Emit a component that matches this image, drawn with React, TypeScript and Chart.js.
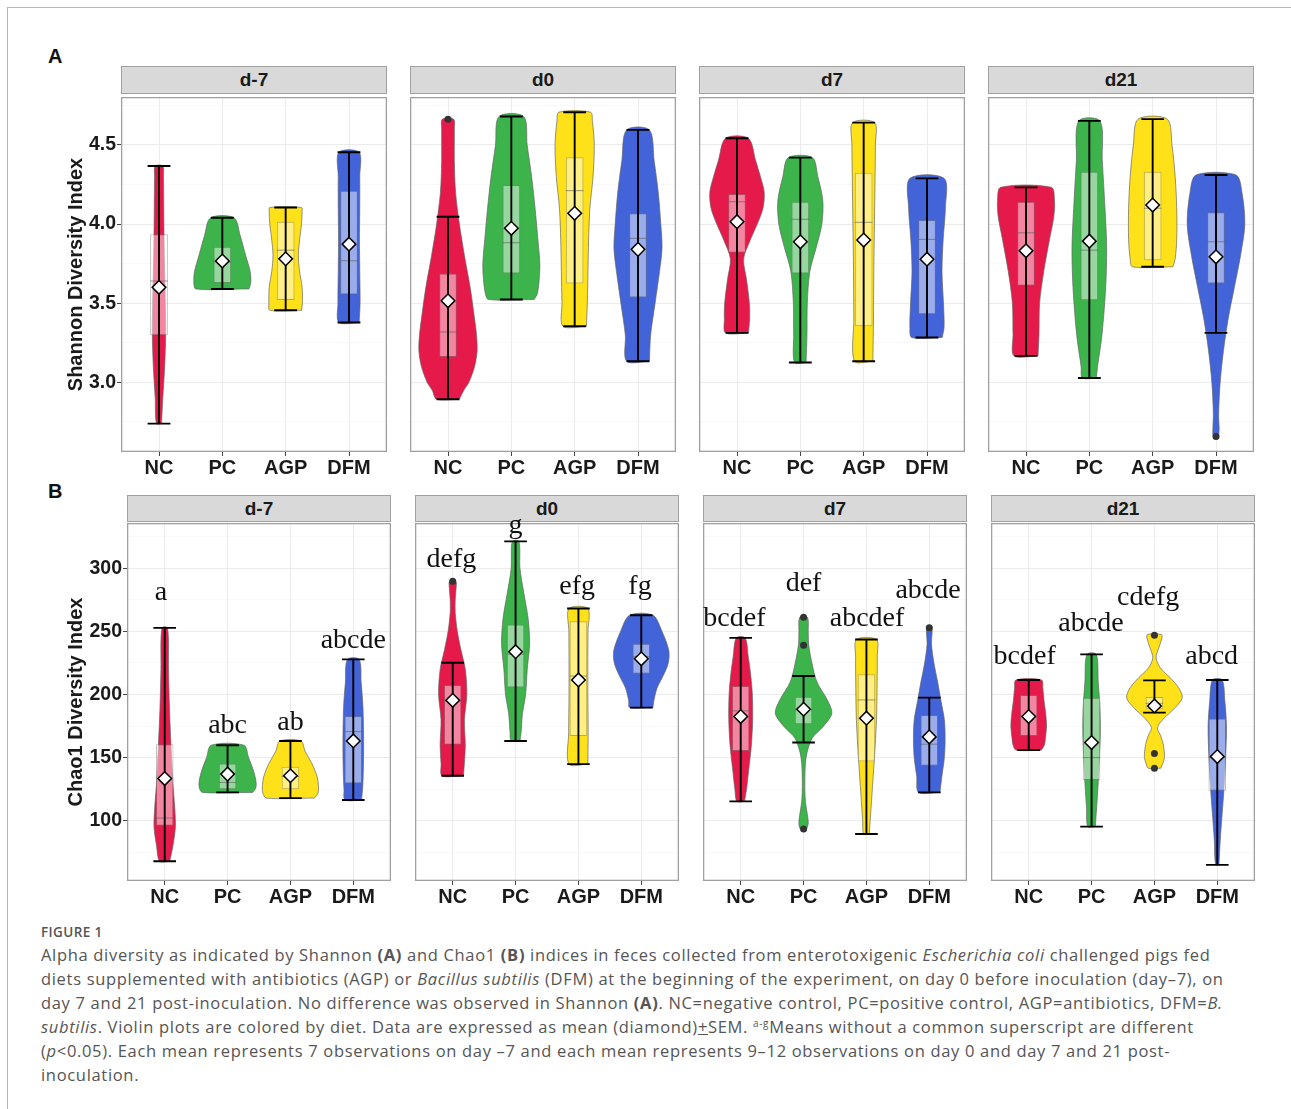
import React, { useEffect, useRef } from "react";
import { Chart, registerables } from "chart.js";
Chart.register(...registerables);

const groups = ["NC", "PC", "AGP", "DFM"];
const days = ["d-7", "d0", "d7", "d21"];
const groupColors = ["#e6194B", "#3cb44b", "#ffe119", "#4363d8"];

// ---------- Shannon (A) : [day][group] ----------
const shannonMean = [
  [3.6, 3.766, 3.78, 3.873],
  [3.515, 3.973, 4.068, 3.84],
  [4.015, 3.888, 3.899, 3.778],
  [3.831, 3.892, 4.12, 3.793],
];
const shannonQ1 = [
  [3.297, 3.628, 3.52, 3.555],
  [3.16, 3.688, 3.625, 3.536],
  [3.818, 3.688, 3.354, 3.43],
  [3.61, 3.519, 3.772, 3.625],
];
const shannonMedian = [
  [3.64, 3.76, 3.835, 3.768],
  [3.318, 3.882, 4.211, 3.91],
  [4.141, 4.03, 4.011, 3.903],
  [3.945, 3.835, 4.1, 3.888],
];
const shannonQ3 = [
  [3.935, 3.856, 4.015, 4.21],
  [3.688, 4.247, 4.422, 4.068],
  [4.19, 4.141, 4.325, 4.025],
  [4.141, 4.331, 4.331, 4.074],
];
const shannonLow = [
  [2.739, 3.59, 3.455, 3.378],
  [2.893, 3.523, 3.354, 3.133],
  [3.312, 3.125, 3.133, 3.283],
  [3.167, 3.027, 3.73, 3.312],
];
const shannonHigh = [
  [4.367, 4.04, 4.105, 4.454],
  [4.046, 4.68, 4.707, 4.595],
  [4.542, 4.42, 4.641, 4.289],
  [4.232, 4.652, 4.663, 4.31],
];
const shannonOutliers = [
  [[], [], [], []],
  [[4.663], [], [], []],
  [[], [], [], []],
  [[], [], [], [2.658]],
];
// violin outline: [value, half width in category units]
const shannonViolins = [
  [
    [[2.739, 0.04], [2.9, 0.06], [3.1, 0.09], [3.3, 0.105], [3.5, 0.1], [3.7, 0.09], [3.9, 0.08], [4.1, 0.075], [4.3, 0.07], [4.367, 0.06]],
    [[3.59, 0.42], [3.63, 0.45], [3.7, 0.44], [3.8, 0.37], [3.93, 0.28], [4.04, 0.185]],
    [[3.455, 0.25], [3.5, 0.265], [3.6, 0.26], [3.7, 0.22], [3.8, 0.2], [3.9, 0.22], [4.0, 0.25], [4.08, 0.26], [4.105, 0.25]],
    [[3.378, 0.16], [3.5, 0.175], [3.7, 0.17], [3.9, 0.165], [4.1, 0.17], [4.3, 0.17], [4.454, 0.16]],
  ],
  [
    [[2.893, 0.18], [2.95, 0.25], [3.0, 0.33], [3.1, 0.42], [3.2, 0.46], [3.3, 0.45], [3.4, 0.42], [3.6, 0.35], [3.8, 0.26], [4.0, 0.18], [4.2, 0.12], [4.4, 0.1], [4.6, 0.1], [4.663, 0.09]],
    [[3.523, 0.36], [3.56, 0.41], [3.65, 0.44], [3.75, 0.45], [3.9, 0.42], [4.1, 0.375], [4.3, 0.32], [4.5, 0.25], [4.68, 0.195]],
    [[3.354, 0.185], [3.5, 0.2], [3.7, 0.21], [3.9, 0.22], [4.1, 0.24], [4.3, 0.29], [4.5, 0.31], [4.65, 0.28], [4.707, 0.25]],
    [[3.133, 0.18], [3.3, 0.2], [3.5, 0.27], [3.7, 0.34], [3.85, 0.38], [4.0, 0.36], [4.2, 0.32], [4.4, 0.255], [4.595, 0.18]],
  ],
  [
    [[3.312, 0.18], [3.4, 0.2], [3.5, 0.195], [3.65, 0.15], [3.78, 0.105], [3.9, 0.21], [4.0, 0.32], [4.1, 0.41], [4.2, 0.43], [4.3, 0.37], [4.4, 0.295], [4.542, 0.18]],
    [[3.125, 0.09], [3.3, 0.105], [3.5, 0.11], [3.7, 0.15], [3.85, 0.25], [4.0, 0.34], [4.15, 0.355], [4.3, 0.276], [4.42, 0.19]],
    [[3.133, 0.145], [3.4, 0.155], [3.7, 0.16], [4.0, 0.17], [4.3, 0.18], [4.5, 0.185], [4.641, 0.175]],
    [[3.283, 0.24], [3.35, 0.27], [3.5, 0.26], [3.7, 0.237], [3.9, 0.255], [4.1, 0.29], [4.289, 0.27]],
  ],
  [
    [[3.167, 0.19], [3.3, 0.205], [3.5, 0.215], [3.7, 0.28], [3.9, 0.37], [4.05, 0.44], [4.15, 0.45], [4.232, 0.4]],
    [[3.027, 0.11], [3.1, 0.13], [3.3, 0.2], [3.6, 0.258], [3.85, 0.274], [4.1, 0.247], [4.4, 0.205], [4.652, 0.168]],
    [[3.73, 0.32], [3.78, 0.355], [3.9, 0.38], [4.1, 0.38], [4.3, 0.355], [4.5, 0.305], [4.663, 0.23]],
    [[2.658, 0.04], [2.7, 0.05], [2.8, 0.042], [3.0, 0.066], [3.2, 0.118], [3.4, 0.192], [3.6, 0.29], [3.8, 0.387], [4.0, 0.455], [4.2, 0.41], [4.31, 0.316]],
  ],
];
const shannonTicks = [2.75, 3, 3.25, 3.5, 3.75, 4, 4.25, 4.5, 4.75];
const shannonMajorTicks = [3, 3.5, 4, 4.5];
const shannonTickLabels = ["3.0", "3.5", "4.0", "4.5"];

// ---------- Chao1 (B) : [day][group] ----------
const chaoMean = [
  [133.4, 136.9, 135.6, 163.2],
  [195.4, 233.9, 211.5, 228.3],
  [182.5, 188.3, 181.2, 166.4],
  [182.5, 161.9, 190.9, 150.8],
];
const chaoQ1 = [
  [96, 125, 125, 129.5],
  [160.1, 205.5, 167.2, 216.5],
  [155.3, 176.4, 146.9, 143.5],
  [167.2, 132.2, 188.3, 123.7],
];
const chaoMedian = [
  [102.1, 130.3, 135, 170.6],
  [194.9, 232, 214.6, 230],
  [187, 188, 195.7, 160.6],
  [183, 150, 193, 150],
];
const chaoQ3 = [
  [160.6, 145.3, 142.7, 183],
  [207.5, 255.5, 258.1, 240.2],
  [206.7, 198.3, 216, 183.8],
  [199.6, 197.5, 198, 180.9],
];
const chaoLow = [
  [67.8, 122.4, 117.9, 116.4],
  [135.6, 163.2, 144.8, 189.6],
  [115.3, 161.9, 89.5, 122.4],
  [155.9, 95.3, 185.6, 65],
];
const chaoHigh = [
  [252.8, 159.8, 163.2, 227.8],
  [225.1, 321.3, 268.1, 262.8],
  [244.9, 214.6, 243.6, 197.5],
  [211.5, 231.8, 211.2, 211.5],
];
const chaoOutliers = [
  [[], [], [], []],
  [[289.7], [], [], []],
  [[], [261.3, 239.1, 93.4], [], [252.8]],
  [[], [], [247, 153.2, 141.6], []],
];
const chaoViolins = [
  [
    [[67.8, 0.08], [80, 0.13], [95, 0.17], [110, 0.16], [130, 0.13], [160, 0.1], [190, 0.075], [220, 0.06], [252.8, 0.045]],
    [[122.4, 0.4], [126, 0.45], [132, 0.45], [140, 0.41], [150, 0.334], [159.8, 0.26]],
    [[117.9, 0.38], [122, 0.44], [128, 0.445], [135, 0.424], [145, 0.345], [155, 0.233], [163.2, 0.167]],
    [[116.4, 0.13], [125, 0.148], [140, 0.16], [160, 0.165], [190, 0.154], [210, 0.125], [227.8, 0.093]],
  ],
  [
    [[135.6, 0.17], [145, 0.185], [160, 0.2], [180, 0.186], [200, 0.225], [220, 0.2], [235, 0.133], [250, 0.074], [265, 0.04], [275, 0.04], [285, 0.055], [289.7, 0.05]],
    [[163.2, 0.07], [170, 0.088], [185, 0.11], [200, 0.16], [220, 0.186], [240, 0.223], [260, 0.2], [280, 0.133], [300, 0.07], [321.3, 0.053]],
    [[144.8, 0.15], [170, 0.155], [200, 0.15], [230, 0.15], [250, 0.152], [268.1, 0.15]],
    [[189.6, 0.185], [195, 0.2], [205, 0.25], [215, 0.35], [225, 0.43], [235, 0.437], [250, 0.33], [262.8, 0.186]],
  ],
  [
    [[115.3, 0.06], [125, 0.093], [140, 0.127], [160, 0.17], [180, 0.19], [200, 0.185], [215, 0.16], [230, 0.12], [244.9, 0.07]],
    [[93.4, 0.05], [98, 0.075], [105, 0.06], [115, 0.03], [130, 0.02], [150, 0.04], [165, 0.133], [175, 0.32], [185, 0.45], [195, 0.385], [210, 0.212], [225, 0.133], [240, 0.08], [250, 0.074], [261.3, 0.061]],
    [[89.5, 0.045], [100, 0.06], [120, 0.087], [150, 0.127], [180, 0.16], [210, 0.17], [230, 0.172], [243.6, 0.16]],
    [[122.4, 0.17], [135, 0.2], [150, 0.24], [165, 0.252], [180, 0.24], [195, 0.186], [210, 0.133], [225, 0.074], [240, 0.035], [252.8, 0.04]],
  ],
  [
    [[155.9, 0.2], [160, 0.25], [165, 0.265], [175, 0.284], [185, 0.27], [195, 0.244], [205, 0.225], [211.5, 0.204]],
    [[95.3, 0.06], [110, 0.08], [130, 0.106], [150, 0.125], [170, 0.14], [190, 0.133], [210, 0.106], [231.8, 0.074]],
    [[141.6, 0.1], [145, 0.13], [150, 0.16], [155, 0.155], [160.6, 0.14], [167.2, 0.1], [173.8, 0.048], [181.7, 0.164], [189.6, 0.33], [197.5, 0.443], [205.4, 0.385], [213.3, 0.25], [221.2, 0.093], [229.1, 0.026], [237, 0.07], [244.9, 0.12], [247.6, 0.11]],
    [[65, 0.027], [85, 0.048], [105, 0.077], [125, 0.106], [150, 0.133], [175, 0.146], [195, 0.12], [211.5, 0.077]],
  ],
];
const chaoLetters = [
  ["a", "abc", "ab", "abcde"],
  ["defg", "g", "efg", "fg"],
  ["bcdef", "def", "abcdef", "abcde"],
  ["bcdef", "abcde", "cdefg", "abcd"],
];
const chaoLetterY = [
  [274.7, 169.6, 172, 237],
  [300.8, 327.9, 279.7, 279.7],
  [254.2, 281.8, 254.2, 276.5],
  [223.9, 250.2, 271.2, 223.9],
];
const chaoLetterDx = [
  [-0.06, 0, 0, 0],
  [-0.02, 0, -0.02, -0.02],
  [-0.1, 0, 0.01, -0.02],
  [-0.065, -0.01, -0.1, -0.09],
];
const chaoTicks = [75, 100, 125, 150, 175, 200, 225, 250, 275, 300, 325];
const chaoMajorTicks = [100, 150, 200, 250, 300];
const chaoTickLabels = ["100", "150", "200", "250", "300"];

const rowA = {
  title: "Shannon Diversity Index",
  min: 2.5594, max: 4.803,
  ticks: shannonTicks, majors: shannonMajorTicks, labels: shannonTickLabels,
  mean: shannonMean, q1: shannonQ1, med: shannonMedian, q3: shannonQ3,
  low: shannonLow, high: shannonHigh, outliers: shannonOutliers, violins: shannonViolins,
  letters: null as any, letterY: null as any, letterDx: null as any,
};
const rowB = {
  title: "Chao1 Diversity Index",
  min: 52.2, max: 335.9,
  ticks: chaoTicks, majors: chaoMajorTicks, labels: chaoTickLabels,
  mean: chaoMean, q1: chaoQ1, med: chaoMedian, q3: chaoQ3,
  low: chaoLow, high: chaoHigh, outliers: chaoOutliers, violins: chaoViolins,
  letters: chaoLetters, letterY: chaoLetterY, letterDx: chaoLetterDx,
};

const AXIS_FONT = "'Liberation Sans', Arial, sans-serif";
const CAP = 0.18;
const BOX_HALF = 0.14;
const X_AXIS_H = 30;
const TOP_PAD = 6;

function buildConfig(spec: any, d: number, axisW: number, showY: boolean) {
  const datasets: any[] = [];
  spec.violins[d].forEach((prof: number[][], g: number) => {
    const c = g + 1;
    const right = prof.map(([v, w]) => ({ x: c + w, y: v }));
    const left = [...prof].reverse().map(([v, w]) => ({ x: c - w, y: v }));
    datasets.push({
      type: "line",
      data: [...right, ...left, right[0]],
      backgroundColor: groupColors[g],
      borderColor: "rgba(100,100,100,0.85)",
      borderWidth: 0.8,
      fill: "shape",
      pointRadius: 0,
      tension: 0.3,
      order: 10,
    });
  });
  datasets.push({
    type: "bar",
    data: groups.map((_, g) => ({ x: g + 1, y: [spec.q1[d][g], spec.q3[d][g]] })),
    backgroundColor: "rgba(255,255,255,0.47)",
    borderColor: "rgba(120,120,120,0.5)",
    borderWidth: 1,
    borderSkipped: false,
    barPercentage: BOX_HALF * 2,
    categoryPercentage: 1,
    order: 9,
  });
  const medData: any[] = [];
  const whiskData: any[] = [];
  groups.forEach((_, g) => {
    const c = g + 1;
    const m = spec.med[d][g];
    medData.push({ x: c - BOX_HALF, y: m }, { x: c + BOX_HALF, y: m }, { x: c, y: null });
    const lo = spec.low[d][g];
    const hi = spec.high[d][g];
    whiskData.push(
      { x: c - CAP, y: hi }, { x: c + CAP, y: hi }, { x: c, y: null },
      { x: c, y: hi }, { x: c, y: lo }, { x: c, y: null },
      { x: c - CAP, y: lo }, { x: c + CAP, y: lo }, { x: c, y: null }
    );
  });
  datasets.push({
    type: "line", data: medData, borderColor: "rgba(90,90,90,0.6)", borderWidth: 1,
    pointRadius: 0, fill: false, spanGaps: false, tension: 0, order: 8,
  });
  datasets.push({
    type: "line", data: whiskData, borderColor: "#000", borderWidth: 1.9,
    pointRadius: 0, fill: false, spanGaps: false, tension: 0, order: 7,
  });
  const outData: any[] = [];
  spec.outliers[d].forEach((vals: number[], g: number) => vals.forEach((v) => outData.push({ x: g + 1, y: v })));
  datasets.push({
    type: "line", data: outData, showLine: false, pointRadius: 3.5,
    pointBackgroundColor: "#333", pointBorderColor: "#333", pointBorderWidth: 0, order: 2,
  });
  datasets.push({
    type: "line",
    data: spec.mean[d].map((m: number, g: number) => ({ x: g + 1, y: m })),
    showLine: false, pointStyle: "rectRot", pointRadius: 6.8,
    pointBackgroundColor: "#fff", pointBorderColor: "#000", pointBorderWidth: 1.5, order: 1,
  });

  const borderPlugin = {
    id: "panelBorder",
    afterDraw(chart: any) {
      const { ctx, chartArea: a } = chart;
      ctx.save();
      ctx.strokeStyle = "#a0a0a0";
      ctx.lineWidth = 1.3;
      ctx.strokeRect(a.left + 0.65, a.top + 0.65, a.right - a.left - 1.3, a.bottom - a.top - 1.3);
      ctx.restore();
    },
  };
  const letterPlugin = {
    id: "letters",
    afterDraw(chart: any) {
      if (!spec.letters) return;
      const { ctx } = chart;
      const xs = chart.scales.x;
      const ys = chart.scales.y;
      ctx.save();
      ctx.font = "28px 'Liberation Serif', 'Times New Roman', serif";
      ctx.fillStyle = "#111";
      ctx.textAlign = "center";
      ctx.textBaseline = "alphabetic";
      spec.letters[d].forEach((t: string, g: number) => {
        ctx.fillText(t, xs.getPixelForValue(g + 1 + spec.letterDx[d][g]), ys.getPixelForValue(spec.letterY[d][g]));
      });
      ctx.restore();
    },
  };

  return {
    type: "line",
    data: { datasets },
    plugins: [borderPlugin, letterPlugin],
    options: {
      animation: false,
      responsive: false,
      maintainAspectRatio: false,
      events: [],
      layout: { padding: { top: TOP_PAD, left: 0, right: 0, bottom: 0 }, autoPadding: false },
      plugins: { legend: { display: false }, tooltip: { enabled: false } },
      scales: {
        x: {
          type: "linear",
          min: 0.4,
          max: 4.6,
          offset: false,
          afterBuildTicks: (s: any) => {
            s.ticks = groups.map((_, i) => ({ value: i + 1 }));
          },
          afterFit: (s: any) => {
            s.height = X_AXIS_H;
            s.paddingLeft = 0;
            s.paddingRight = 0;
          },
          ticks: {
            callback: (v: number) => groups[Math.round(v) - 1] ?? "",
            font: { family: AXIS_FONT, weight: "bold", size: 20 },
            color: "#1a1a1a",
            padding: 0,
            autoSkip: false,
            maxRotation: 0,
          },
          grid: { color: "#ebebeb", lineWidth: 1, tickColor: "#444", tickLength: 4, offset: false },
          border: { display: false },
        },
        y: {
          type: "linear",
          min: spec.min,
          max: spec.max,
          afterBuildTicks: (s: any) => {
            s.ticks = spec.ticks.map((v: number) => ({ value: v }));
          },
          afterFit: (s: any) => {
            s.width = axisW;
            s.paddingTop = 0;
            s.paddingBottom = 0;
          },
          ticks: {
            display: showY,
            callback: (v: number) => {
              const i = spec.majors.indexOf(v);
              return i >= 0 ? spec.labels[i] : "";
            },
            font: { family: AXIS_FONT, weight: "bold", size: 19.5 },
            color: "#1a1a1a",
            padding: 1,
            autoSkip: false,
          },
          grid: {
            color: (c: any) => (spec.majors.includes(c.tick?.value) ? "#ebebeb" : "#f5f5f5"),
            lineWidth: (c: any) => (spec.majors.includes(c.tick?.value) ? 1 : 0.7),
            tickColor: (c: any) => (spec.majors.includes(c.tick?.value) ? "#444" : "rgba(0,0,0,0)"),
            tickLength: 4,
            drawTicks: showY,
            offset: false,
          },
          border: { display: false },
          title: {
            display: showY,
            text: spec.title,
            font: { family: AXIS_FONT, weight: "bold", size: 20 },
            color: "#1a1a1a",
            padding: { top: 0, bottom: 0 },
          },
        },
      },
    },
  };
}

function Panel(props: any) {
  const { spec, d, left, top, width, height, axisW, showY } = props;
  const ref = useRef<HTMLCanvasElement>(null);
  useEffect(() => {
    const chart = new Chart(ref.current as HTMLCanvasElement, buildConfig(spec, d, axisW, showY) as any);
    return () => chart.destroy();
  }, []);
  return (
    <canvas
      ref={ref}
      width={width}
      height={height}
      style={{ position: "absolute", left, top, width, height }}
    />
  );
}

function Strip(props: any) {
  const { left, top, width, height, text } = props;
  return (
    <div
      style={{
        position: "absolute", left, top, width, height, boxSizing: "border-box",
        background: "#d9d9d9", border: "1.3px solid #a0a0a0",
        display: "flex", alignItems: "center", justifyContent: "center",
        font: `bold 19px ${AXIS_FONT}`, color: "#1a1a1a",
      }}
    >
      {text}
    </div>
  );
}

const rowLayouts = [
  { spec: rowA, lefts: [121, 410, 699, 988], width: 266, plotTop: 97, plotH: 355, stripTop: 66, stripH: 28, label: "A", labelTop: 45 },
  { spec: rowB, lefts: [127, 415, 703, 991], width: 264, plotTop: 523, plotH: 358, stripTop: 495, stripH: 27, label: "B", labelTop: 480 },
];
const CANVAS_LEFT = 64;

export default function App() {
  return (
    <div style={{ position: "absolute", left: 0, top: 0, width: 1291, height: 1109, background: "#fff", overflow: "hidden" }}>
      <div style={{ position: "absolute", left: 7, top: 7, width: 1284, height: 1102, borderTop: "1px solid #b8b8b8", borderLeft: "1px solid #b8b8b8" }} />
      {rowLayouts.map((r, ri) => (
        <React.Fragment key={ri}>
          <div style={{ position: "absolute", left: 48, top: r.labelTop, font: `bold 20px ${AXIS_FONT}`, color: "#111" }}>{r.label}</div>
          {days.map((day, d) => {
            const showY = d === 0;
            const cl = showY ? CANVAS_LEFT : r.lefts[d];
            const axisW = showY ? r.lefts[d] - CANVAS_LEFT : 0;
            return (
              <React.Fragment key={day}>
                <Strip left={r.lefts[d]} top={r.stripTop} width={r.width} height={r.stripH} text={day} />
                <Panel
                  spec={r.spec} d={d} left={cl} top={r.plotTop - TOP_PAD}
                  width={r.width + axisW} height={r.plotH + X_AXIS_H + TOP_PAD}
                  axisW={axisW} showY={showY}
                />
              </React.Fragment>
            );
          })}
        </React.Fragment>
      ))}
      <div style={{ position: "absolute", left: 41, top: 923, font: "600 13.5px 'Open Sans', sans-serif", letterSpacing: "0.4px", color: "#555", whiteSpace: "nowrap" }}>FIGURE 1</div>
      <div style={{ position: "absolute", left: 41, top: 943, font: "16.5px/24px 'Open Sans', sans-serif", letterSpacing: "0.68px", color: "#555", whiteSpace: "nowrap" }}>
        <div>Alpha diversity as indicated by Shannon <b>(A)</b> and Chao1 <b>(B)</b> indices in feces collected from enterotoxigenic <i>Escherichia coli</i> challenged pigs fed</div>
        <div>diets supplemented with antibiotics (AGP) or <i>Bacillus subtilis</i> (DFM) at the beginning of the experiment, on day 0 before inoculation (day–7), on</div>
        <div>day 7 and 21 post-inoculation. No difference was observed in Shannon <b>(A)</b>. NC=negative control, PC=positive control, AGP=antibiotics, DFM=<i>B.</i></div>
        <div><i>subtilis</i>. Violin plots are colored by diet. Data are expressed as mean (diamond)<u>+</u>SEM. <sup style={{ fontSize: "60%", lineHeight: 0 }}>a-g</sup>Means without a common superscript are different</div>
        <div>(<i>p</i>&lt;0.05). Each mean represents 7 observations on day –7 and each mean represents 9–12 observations on day 0 and day 7 and 21 post-</div>
        <div>inoculation.</div>
      </div>
    </div>
  );
}
